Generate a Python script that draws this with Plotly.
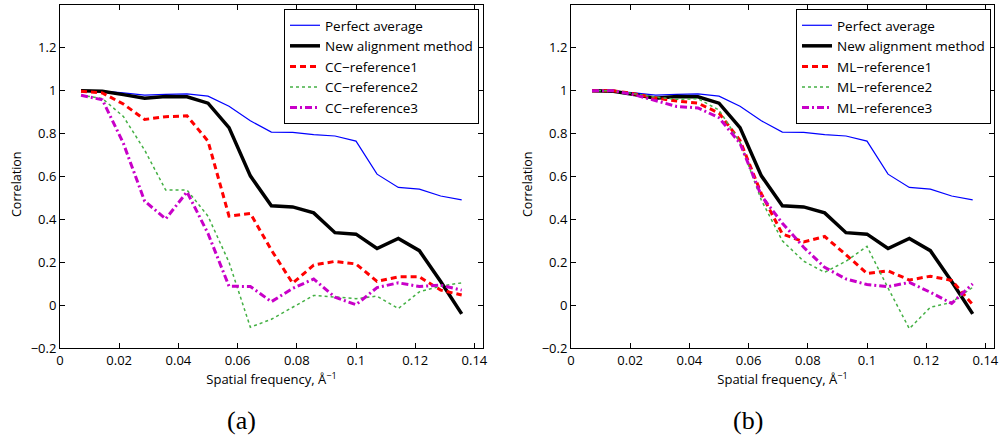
import plotly.graph_objects as go

# Spatial frequency (1/Å)
freq = [0.0071, 0.0143, 0.0214, 0.0286, 0.0357, 0.0429, 0.0500, 0.0571, 0.0643, 0.0714,
        0.0786, 0.0857, 0.0929, 0.1000, 0.1071, 0.1143, 0.1214, 0.1286, 0.1357]

perfect = [1.0, 0.998, 0.99, 0.98, 0.983, 0.985, 0.975, 0.928, 0.86, 0.807,
           0.806, 0.795, 0.789, 0.765, 0.611, 0.549, 0.541, 0.509, 0.491]
new_method = [1.0, 0.998, 0.982, 0.965, 0.973, 0.972, 0.942, 0.828, 0.603, 0.463,
              0.458, 0.43, 0.338, 0.331, 0.264, 0.311, 0.254, 0.11, -0.041]

cc1 = [0.998, 0.99, 0.938, 0.866, 0.879, 0.883, 0.765, 0.415, 0.428, 0.257,
       0.102, 0.187, 0.204, 0.192, 0.111, 0.132, 0.132, 0.07, 0.047]
cc2 = [0.979, 0.964, 0.88, 0.723, 0.537, 0.537, 0.415, 0.2, -0.103, -0.066,
       -0.01, 0.045, 0.038, 0.03, 0.042, -0.016, 0.062, 0.089, 0.104]
cc3 = [0.979, 0.958, 0.755, 0.485, 0.402, 0.528, 0.334, 0.088, 0.087, 0.016,
       0.078, 0.122, 0.037, 0.002, 0.082, 0.104, 0.087, 0.093, 0.07]

ml1 = [1.0, 1.0, 0.986, 0.966, 0.952, 0.942, 0.896, 0.768, 0.52, 0.332,
       0.295, 0.32, 0.235, 0.148, 0.16, 0.117, 0.135, 0.115, 0.003]
ml2 = [1.0, 1.0, 0.986, 0.97, 0.96, 0.963, 0.91, 0.76, 0.49, 0.30,
       0.205, 0.153, 0.205, 0.274, 0.08, -0.11, -0.01, 0.013, 0.083]
ml3 = [1.0, 1.0, 0.981, 0.955, 0.927, 0.92, 0.874, 0.755, 0.51, 0.382,
       0.27, 0.176, 0.122, 0.096, 0.086, 0.106, 0.06, 0.008, 0.099]

names_left = ["Perfect average", "New alignment method", "CC\u2212reference1", "CC\u2212reference2", "CC\u2212reference3"]
names_right = ["Perfect average", "New alignment method", "ML\u2212reference1", "ML\u2212reference2", "ML\u2212reference3"]

x_ticks = [0, 0.02, 0.04, 0.06, 0.08, 0.1, 0.12, 0.14]
x_ticklabels = ["0", "0.02", "0.04", "0.06", "0.08", "0.1", "0.12", "0.14"]
y_ticks = [-0.2, 0, 0.2, 0.4, 0.6, 0.8, 1.0, 1.2]
y_ticklabels = ["\u22120.2", "0", "0.2", "0.4", "0.6", "0.8", "1", "1.2"]

styles = [
    dict(color="#0000ff", width=1.2, dash="solid"),
    dict(color="#000000", width=3.5, dash="solid"),
    dict(color="#ff0000", width=3, dash="6px,4px"),
    dict(color="#44b044", width=1.5, dash="dot"),
    dict(color="#c800c8", width=3, dash="7px,3px,2px,3px"),
]

FONT = "Open Sans"
fig = go.Figure()

left_series = [perfect, new_method, cc1, cc2, cc3]
right_series = [perfect, new_method, ml1, ml2, ml3]

for name, ys, st in zip(names_left, left_series, styles):
    fig.add_trace(go.Scatter(x=freq, y=ys, mode="lines", name=name, line=st,
                             xaxis="x", yaxis="y", legend="legend"))
for name, ys, st in zip(names_right, right_series, styles):
    fig.add_trace(go.Scatter(x=freq, y=ys, mode="lines", name=name, line=st,
                             xaxis="x2", yaxis="y2", legend="legend2"))

W, H = 1001, 440
xd1 = [60 / W, 483 / W]
xd2 = [571 / W, 994 / W]
yd = [1 - 348 / H, 1 - 5 / H]

axis_common = dict(showline=True, linecolor="black", linewidth=1, mirror="ticks",
                   ticks="inside", ticklen=5, tickcolor="black", showgrid=False,
                   zeroline=False, automargin=False,
                   tickfont=dict(family=FONT, size=13, color="black"))

xtitle = dict(text="Spatial frequency, Å<sup>\u22121</sup>", standoff=4, font=dict(family=FONT, size=13))

legend_common = dict(xanchor="right", yanchor="top", bordercolor="black", borderwidth=1,
                     bgcolor="white", font=dict(family=FONT, size=13.5), itemwidth=30,
                     tracegroupgap=0)

ann_font_serif = dict(family="Liberation Serif", size=26, color="black")
ann_font_y = dict(family=FONT, size=12.5, color="black")

fig.update_layout(
    width=W, height=H, margin=dict(l=0, r=0, t=0, b=0, autoexpand=False),
    paper_bgcolor="white", plot_bgcolor="white",
    font=dict(family=FONT, size=13, color="black"),
    xaxis=dict(domain=xd1, range=[0, 0.1429], tickvals=x_ticks, ticktext=x_ticklabels,
               anchor="y", title=xtitle, **axis_common),
    yaxis=dict(domain=yd, range=[-0.2, 1.4], tickvals=y_ticks, ticktext=y_ticklabels,
               anchor="x", **axis_common),
    xaxis2=dict(domain=xd2, range=[0, 0.1429], tickvals=x_ticks, ticktext=x_ticklabels,
                anchor="y2", title=xtitle, **axis_common),
    yaxis2=dict(domain=yd, range=[-0.2, 1.4], tickvals=y_ticks, ticktext=y_ticklabels,
                anchor="x2", **axis_common),
    legend=dict(x=479 / W, y=1 - 9 / H, **legend_common),
    legend2=dict(x=991 / W, y=1 - 9 / H, **legend_common),
    showlegend=True,
    annotations=[
        dict(text="Correlation", x=16 / W, y=1 - 184 / H, xref="paper", yref="paper",
             xanchor="center", yanchor="middle", textangle=-90, showarrow=False, font=ann_font_y),
        dict(text="Correlation", x=527 / W, y=1 - 184 / H, xref="paper", yref="paper",
             xanchor="center", yanchor="middle", textangle=-90, showarrow=False, font=ann_font_y),
        dict(text="(a)", x=241 / W, y=1 - 420 / H, xref="paper", yref="paper",
             xanchor="center", yanchor="middle", showarrow=False, font=ann_font_serif),
        dict(text="(b)", x=748 / W, y=1 - 420 / H, xref="paper", yref="paper",
             xanchor="center", yanchor="middle", showarrow=False, font=ann_font_serif),
    ],
)

fig.write_html("out.html", config={"displayModeBar": False},
               post_script="document.body.style.margin='0px';document.body.style.overflow='hidden';")
